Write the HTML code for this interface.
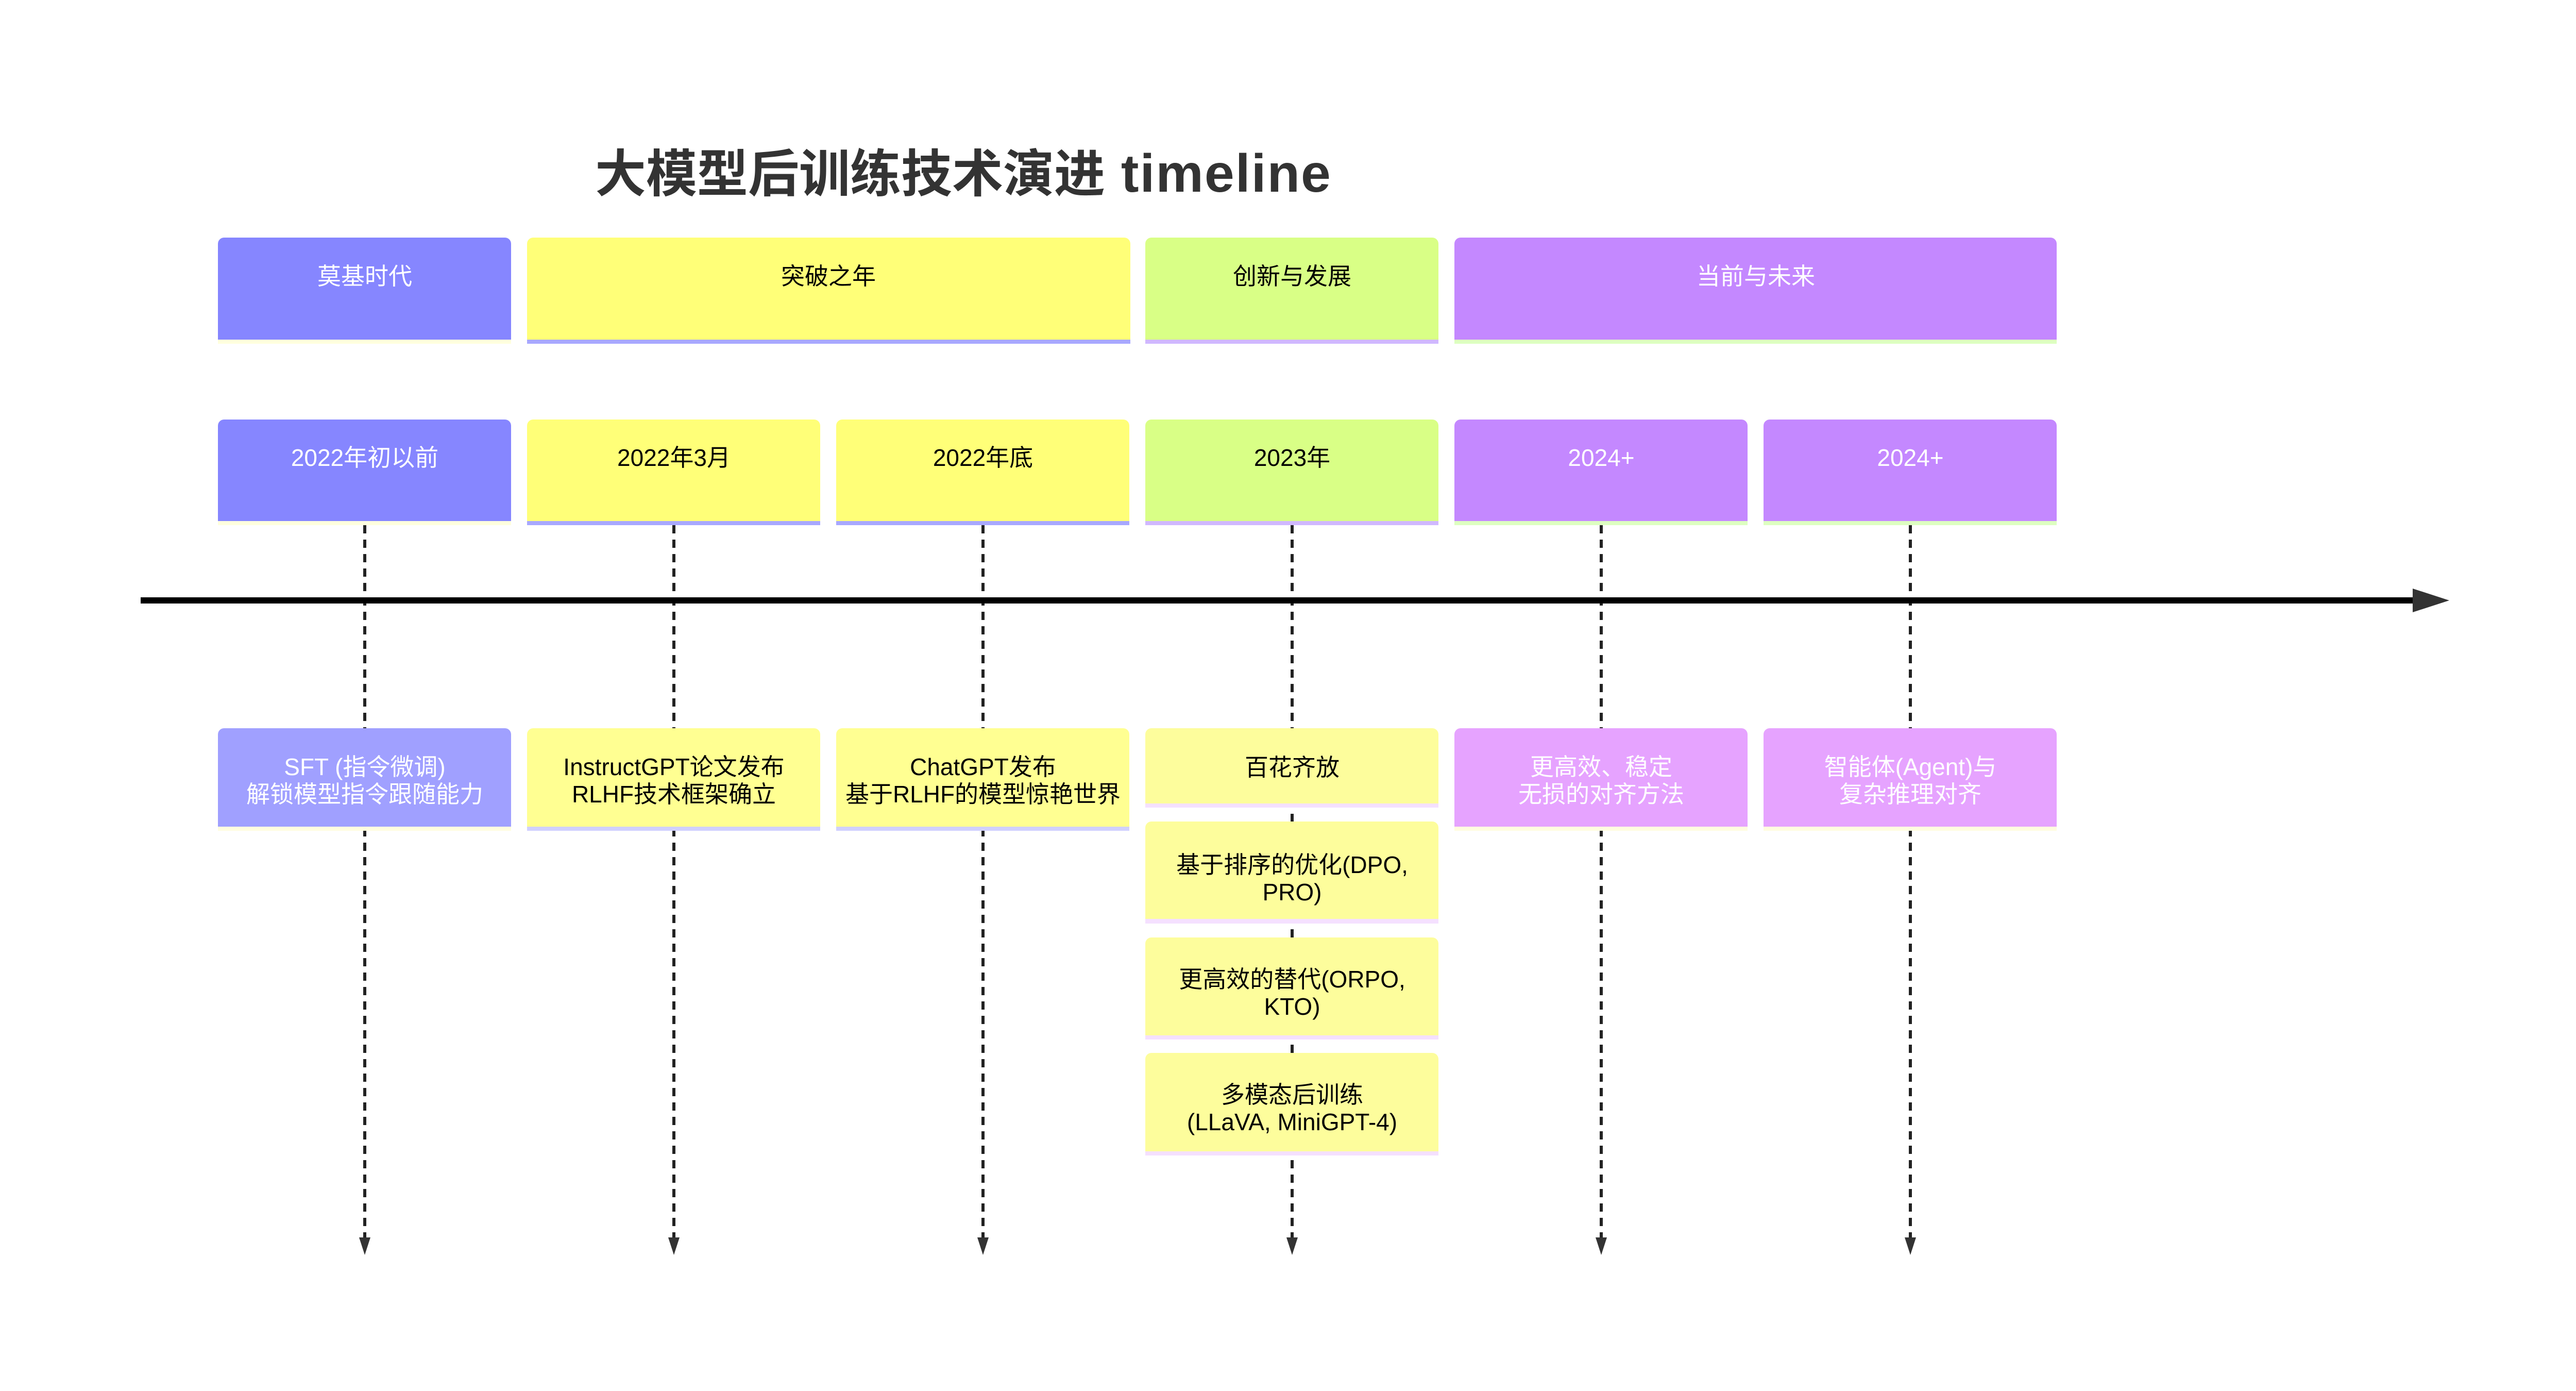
<!DOCTYPE html>
<html><head><meta charset="utf-8"><style>
html,body{margin:0;padding:0;background:#fff;}
svg{display:block;}
text{font-family:"Liberation Sans","Noto Sans CJK SC",sans-serif;}
</style></head><body>
<svg width="5015" height="2699" viewBox="0 0 5015 2699" xmlns="http://www.w3.org/2000/svg">
<text x="1155" y="372" font-size="99" font-weight="bold" fill="#333">大模型后训练技术演进<tspan font-size="104" letter-spacing="2"> timeline</tspan></text>

<g stroke="#222" stroke-width="6" stroke-dasharray="16 12">
<line x1="708" y1="1019" x2="708" y2="2405"/>
<line x1="1308" y1="1019" x2="1308" y2="2405"/>
<line x1="1908" y1="1019" x2="1908" y2="2405"/>
<line x1="2508" y1="1019" x2="2508" y2="2405"/>
<line x1="3108" y1="1019" x2="3108" y2="2405"/>
<line x1="3708" y1="1019" x2="3708" y2="2405"/>
</g>
<g fill="#333">
<polygon points="697,2401 719,2401 708,2435"/>
<polygon points="1297,2401 1319,2401 1308,2435"/>
<polygon points="1897,2401 1919,2401 1908,2435"/>
<polygon points="2497,2401 2519,2401 2508,2435"/>
<polygon points="3097,2401 3119,2401 3108,2435"/>
<polygon points="3697,2401 3719,2401 3708,2435"/>
</g>

<line x1="273" y1="1165" x2="4700" y2="1165" stroke="#000" stroke-width="12"/>
<polygon points="4683,1142 4754,1165 4683,1188" fill="#333"/>

<g font-size="46">
<rect x="423" y="659" width="569" height="8" fill="#ffffde"/>
<path d="M423,659 V473 a12,12 0 0 1 12,-12 H980 a12,12 0 0 1 12,12 V659 Z" fill="#8686ff"/>
<text x="708" y="552" text-anchor="middle" fill="#fff">莫基时代</text>

<rect x="1023" y="659" width="1171" height="8" fill="#a8a8ff"/>
<path d="M1023,659 V473 a12,12 0 0 1 12,-12 H2182 a12,12 0 0 1 12,12 V659 Z" fill="#ffff78"/>
<text x="1608" y="552" text-anchor="middle" fill="#000">突破之年</text>

<rect x="2223" y="659" width="569" height="8" fill="#d0b8ff"/>
<path d="M2223,659 V473 a12,12 0 0 1 12,-12 H2780 a12,12 0 0 1 12,12 V659 Z" fill="#d9ff86"/>
<text x="2508" y="552" text-anchor="middle" fill="#000">创新与发展</text>

<rect x="2823" y="659" width="1169" height="8" fill="#ddffc0"/>
<path d="M2823,659 V473 a12,12 0 0 1 12,-12 H3980 a12,12 0 0 1 12,12 V659 Z" fill="#c488ff"/>
<text x="3408" y="552" text-anchor="middle" fill="#fff">当前与未来</text>
</g>

<g font-size="46">
<rect x="423" y="1011" width="569" height="8" fill="#ffffde"/>
<path d="M423,1011 V826 a12,12 0 0 1 12,-12 H980 a12,12 0 0 1 12,12 V1011 Z" fill="#8686ff"/>
<text x="708" y="904" text-anchor="middle" fill="#fff">2022年初以前</text>

<rect x="1023" y="1011" width="569" height="8" fill="#a8a8ff"/>
<path d="M1023,1011 V826 a12,12 0 0 1 12,-12 H1580 a12,12 0 0 1 12,12 V1011 Z" fill="#ffff78"/>
<text x="1308" y="904" text-anchor="middle" fill="#000">2022年3月</text>

<rect x="1623" y="1011" width="569" height="8" fill="#a8a8ff"/>
<path d="M1623,1011 V826 a12,12 0 0 1 12,-12 H2180 a12,12 0 0 1 12,12 V1011 Z" fill="#ffff78"/>
<text x="1908" y="904" text-anchor="middle" fill="#000">2022年底</text>

<rect x="2223" y="1011" width="569" height="8" fill="#d0b8ff"/>
<path d="M2223,1011 V826 a12,12 0 0 1 12,-12 H2780 a12,12 0 0 1 12,12 V1011 Z" fill="#d9ff86"/>
<text x="2508" y="904" text-anchor="middle" fill="#000">2023年</text>

<rect x="2823" y="1011" width="569" height="8" fill="#ddffc0"/>
<path d="M2823,1011 V826 a12,12 0 0 1 12,-12 H3380 a12,12 0 0 1 12,12 V1011 Z" fill="#c488ff"/>
<text x="3108" y="904" text-anchor="middle" fill="#fff">2024+</text>

<rect x="3423" y="1011" width="569" height="8" fill="#ddffc0"/>
<path d="M3423,1011 V826 a12,12 0 0 1 12,-12 H3980 a12,12 0 0 1 12,12 V1011 Z" fill="#c488ff"/>
<text x="3708" y="904" text-anchor="middle" fill="#fff">2024+</text>
</g>

<g font-size="46">
<rect x="423" y="1604" width="569" height="8" fill="#fffde0"/>
<path d="M423,1604 V1425 a12,12 0 0 1 12,-12 H980 a12,12 0 0 1 12,12 V1604 Z" fill="#a0a0ff"/>
<text x="708" y="1504" text-anchor="middle" fill="#fff">SFT (指令微调)</text>
<text x="708" y="1557" text-anchor="middle" fill="#fff">解锁模型指令跟随能力</text>

<rect x="1023" y="1604" width="569" height="8" fill="#d0d0ff"/>
<path d="M1023,1604 V1425 a12,12 0 0 1 12,-12 H1580 a12,12 0 0 1 12,12 V1604 Z" fill="#ffff92"/>
<text x="1308" y="1504" text-anchor="middle" fill="#000">InstructGPT论文发布</text>
<text x="1308" y="1557" text-anchor="middle" fill="#000">RLHF技术框架确立</text>

<rect x="1623" y="1604" width="569" height="8" fill="#d0d0ff"/>
<path d="M1623,1604 V1425 a12,12 0 0 1 12,-12 H2180 a12,12 0 0 1 12,12 V1604 Z" fill="#ffff92"/>
<text x="1908" y="1504" text-anchor="middle" fill="#000">ChatGPT发布</text>
<text x="1908" y="1557" text-anchor="middle" fill="#000">基于RLHF的模型惊艳世界</text>

<rect x="2223" y="1559" width="569" height="8" fill="#f5e0ff"/>
<path d="M2223,1559 V1425 a12,12 0 0 1 12,-12 H2780 a12,12 0 0 1 12,12 V1559 Z" fill="#fdfd9c"/>
<text x="2508" y="1505" text-anchor="middle" fill="#000">百花齐放</text>

<rect x="2223" y="1783" width="569" height="9" fill="#f5e0ff"/>
<path d="M2223,1783 V1606 a12,12 0 0 1 12,-12 H2780 a12,12 0 0 1 12,12 V1783 Z" fill="#fdfd9c"/>
<text x="2508" y="1694" text-anchor="middle" fill="#000">基于排序的优化(DPO,</text>
<text x="2508" y="1747" text-anchor="middle" fill="#000">PRO)</text>

<rect x="2223" y="2009" width="569" height="8" fill="#f5e0ff"/>
<path d="M2223,2009 V1831 a12,12 0 0 1 12,-12 H2780 a12,12 0 0 1 12,12 V2009 Z" fill="#fdfd9c"/>
<text x="2508" y="1916" text-anchor="middle" fill="#000">更高效的替代(ORPO,</text>
<text x="2508" y="1969" text-anchor="middle" fill="#000">KTO)</text>

<rect x="2223" y="2234" width="569" height="8" fill="#f5e0ff"/>
<path d="M2223,2234 V2055 a12,12 0 0 1 12,-12 H2780 a12,12 0 0 1 12,12 V2234 Z" fill="#fdfd9c"/>
<text x="2508" y="2140" text-anchor="middle" fill="#000">多模态后训练</text>
<text x="2508" y="2193" text-anchor="middle" fill="#000">(LLaVA, MiniGPT-4)</text>

<rect x="2823" y="1604" width="569" height="8" fill="#fffde0"/>
<path d="M2823,1604 V1425 a12,12 0 0 1 12,-12 H3380 a12,12 0 0 1 12,12 V1604 Z" fill="#e6a3ff"/>
<text x="3108" y="1504" text-anchor="middle" fill="#fff">更高效、稳定</text>
<text x="3108" y="1557" text-anchor="middle" fill="#fff">无损的对齐方法</text>

<rect x="3423" y="1604" width="569" height="8" fill="#fffde0"/>
<path d="M3423,1604 V1425 a12,12 0 0 1 12,-12 H3980 a12,12 0 0 1 12,12 V1604 Z" fill="#e6a3ff"/>
<text x="3708" y="1504" text-anchor="middle" fill="#fff">智能体(Agent)与</text>
<text x="3708" y="1557" text-anchor="middle" fill="#fff">复杂推理对齐</text>
</g>
</svg>
</body></html>
